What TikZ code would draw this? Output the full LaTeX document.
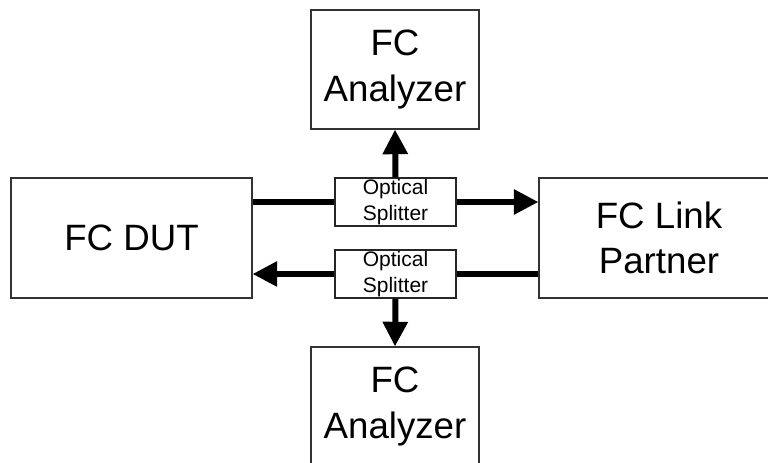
\documentclass[tikz,border=0pt]{standalone}
\usepackage{fontspec}
\setmainfont{Liberation Sans}
\usetikzlibrary{arrows.meta}
\begin{document}
\begin{tikzpicture}[x=0.75pt,y=-0.75pt,
  box/.style={draw=black!80, line width=0.8pt, fill=white, rectangle,
    inner sep=0pt, align=center, font=\fontsize{27.5pt}{34pt}\selectfont},
  splitbox/.style={draw=black!85, line width=0.8pt, fill=white, rectangle,
    inner sep=0pt, align=center, minimum width=90.75pt, minimum height=36pt,
    font=\fontsize{15.75pt}{19.5pt}\selectfont},
  link/.style={line width=4.5pt, draw=black},
  tip/.style={-{Triangle[length=18.5pt,width=18pt]}}]
  \clip (0,0) rectangle (768,463);

  % main blocks
  \node[box, minimum width=126pt, minimum height=89.25pt] (an1) at (395,69.5) {FC\\Analyzer};
  \node[box, minimum width=180.75pt, minimum height=90pt] (dut) at (131.5,238) {FC DUT};
  \node[box, minimum width=180pt, minimum height=90pt] (lp) at (659,238) {FC Link\\Partner};
  \node[box, minimum width=126pt, minimum height=89.25pt] (an2) at (395,406.5) {FC\\Analyzer};

  % splitters
  \node[splitbox] (s1) at (395.5,202) {Optical\\Splitter};
  \node[splitbox] (s2) at (395.5,274) {Optical\\Splitter};

  % forward path: DUT -> splitter -> link partner, tapped to the upper analyzer
  \draw[link] (s1.west) -- (s1.west -| dut.east);
  \draw[link,tip] (s1.east) -- (s1.east -| lp.west);
  \draw[link,tip] (s1.north) -- (an1.south);

  % return path: link partner -> splitter -> DUT, tapped to the lower analyzer
  \draw[link] (s2.east -| lp.west) -- (s2.east);
  \draw[link,tip] (s2.west) -- (s2.west -| dut.east);
  \draw[link,tip] (s2.south) -- (an2.north);
\end{tikzpicture}
\end{document}
